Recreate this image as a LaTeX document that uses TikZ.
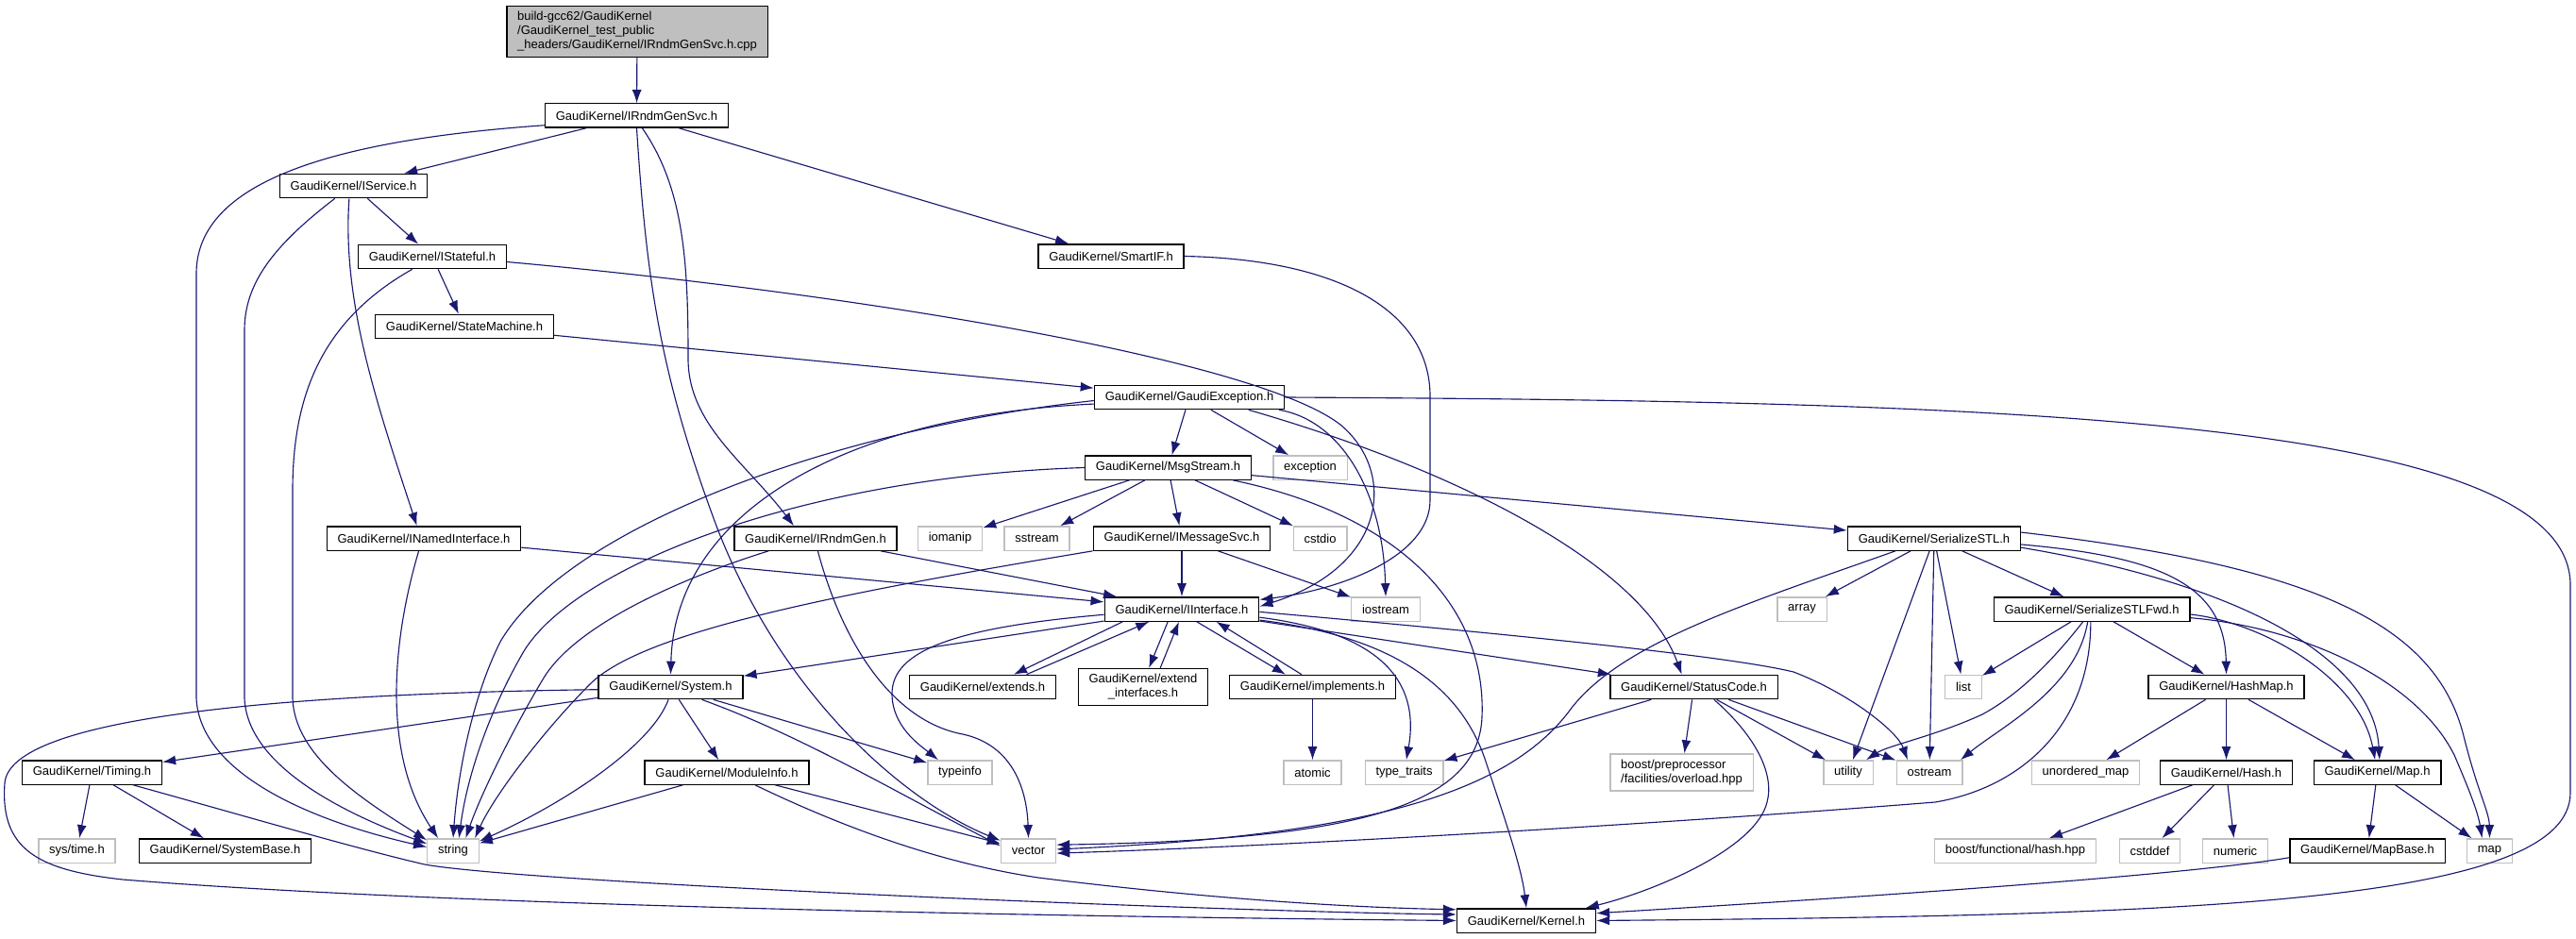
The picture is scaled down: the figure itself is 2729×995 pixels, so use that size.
\documentclass[tikz,border=0pt]{standalone}
\usepackage{fontspec}
\setmainfont{Liberation Sans}
\usetikzlibrary{shapes,arrows,arrows.meta}
\definecolor{edgeblue}{HTML}{191970}
\definecolor{boxgrey}{HTML}{BFBFBF}
\tikzstyle{block} = [rectangle, draw=black, line width=1pt, fill=white,
    font=\fontsize{9.75}{11.25}\selectfont, inner xsep=8.5pt, inner ysep=2pt, minimum height=19pt]
\tikzstyle{sysblock} = [block, draw=boxgrey]
\tikzstyle{multi} = [inner ysep=4.5pt]
\tikzstyle{rootblock} = [block, multi, fill=boxgrey, align=left]
\tikzstyle{line} = [draw=edgeblue, line width=0.85pt, -{Latex[length=10.5pt, width=7.5pt]}]

\begin{document}
\begin{tikzpicture}[x=0.75pt, y=-0.75pt]
	\useasboundingbox (0,0) rectangle (2729,995);

		\node [rootblock] (root) at (675,33.5) {build-gcc62/GaudiKernel\\/GaudiKernel\_test\_public\\\_headers/GaudiKernel/IRndmGenSvc.h.cpp};
		\node [block] (rndmsvc) at (674.5,122.5) {GaudiKernel/IRndmGenSvc.h};
		\node [block] (iservice) at (374.5,197) {GaudiKernel/IService.h};
		\node [block] (smartif) at (1177,271.5) {GaudiKernel/SmartIF.h};
		\node [block] (istateful) at (458,272) {GaudiKernel/IStateful.h};
		\node [block] (statemachine) at (492,346) {GaudiKernel/StateMachine.h};
		\node [block] (gexception) at (1260,421) {GaudiKernel/GaudiException.h};
		\node [block] (msgstream) at (1237.5,495.5) {GaudiKernel/MsgStream.h};
		\node [sysblock] (exception) at (1388,495.5) {exception};
		\node [block] (inamed) at (449,570.5) {GaudiKernel/INamedInterface.h};
		\node [block] (irndmgen) at (864,570.5) {GaudiKernel/IRndmGen.h};
		\node [sysblock] (iomanip) at (1006.5,570.5) {iomanip};
		\node [sysblock] (sstream) at (1098.5,570.5) {sstream};
		\node [block] (imsgsvc) at (1252,570.5) {GaudiKernel/IMessageSvc.h};
		\node [sysblock] (cstdio) at (1398.5,570.5) {cstdio};
		\node [block] (serstl) at (2049,570.5) {GaudiKernel/SerializeSTL.h};
		\node [block] (iinterface) at (1252,645.5) {GaudiKernel/IInterface.h};
		\node [sysblock] (iostream) at (1468,645.5) {iostream};
		\node [sysblock] (array) at (1909,645.5) {array};
		\node [block] (serfwd) at (2216,645.5) {GaudiKernel/SerializeSTLFwd.h};
		\node [block] (system) at (710.5,728) {GaudiKernel/System.h};
		\node [block] (extends) at (1041,728) {GaudiKernel/extends.h};
		\node [block, multi, align=center] (extif) at (1211,728) {GaudiKernel/extend\\\_interfaces.h};
		\node [block] (implements) at (1390.5,728) {GaudiKernel/implements.h};
		\node [block] (statuscode) at (1794.5,728) {GaudiKernel/StatusCode.h};
		\node [sysblock] (stdlist) at (2080,728) {list};
		\node [block] (hashmap) at (2358.5,728) {GaudiKernel/HashMap.h};
		\node [block] (timing) at (97.5,818.5) {GaudiKernel/Timing.h};
		\node [block] (moduleinfo) at (770,818.5) {GaudiKernel/ModuleInfo.h};
		\node [sysblock] (typeinfo) at (1017,818.5) {typeinfo};
		\node [sysblock] (atomic) at (1390.5,818.5) {atomic};
		\node [sysblock] (typetraits) at (1487.5,818.5) {type\_traits};
		\node [sysblock, multi, align=left] (boostpp) at (1781.5,818.5) {boost/preprocessor\\/facilities/overload.hpp};
		\node [sysblock] (utility) at (1958,818.5) {utility};
		\node [sysblock] (ostream) at (2044,818.5) {ostream};
		\node [sysblock] (unordmap) at (2209.5,818.5) {unordered\_map};
		\node [block] (hash) at (2358.5,818.5) {GaudiKernel/Hash.h};
		\node [block] (gkmap) at (2518.5,818.5) {GaudiKernel/Map.h};
		\node [sysblock] (systime) at (81.5,901.5) {sys/time.h};
		\node [block] (systembase) at (238.5,901.5) {GaudiKernel/SystemBase.h};
		\node [sysblock] (string) at (480,901.5) {string};
		\node [sysblock] (vector) at (1089.5,901.5) {vector};
		\node [sysblock] (boosthash) at (2135,901.5) {boost/functional/hash.hpp};
		\node [sysblock] (cstddef) at (2277.5,901.5) {cstddef};
		\node [sysblock] (numeric) at (2368,901.5) {numeric};
		\node [block] (mapbase) at (2508,901.5) {GaudiKernel/MapBase.h};
		\node [sysblock] (stdmap) at (2637.5,901.5) {map};
		\node [block] (kernel) at (1617,975.5) {GaudiKernel/Kernel.h};

		\path [line] (root) -- (rndmsvc);
		\path [line] (rndmsvc) -- (iservice);
		\path [line] (rndmsvc) -- (smartif);
		\path [line] (rndmsvc.186) .. controls (330,150) and (208,200) .. (208,290) -- (208,740) .. controls (212,820) and (330,870) .. (string.172);
		\path [line] (rndmsvc.south) .. controls (685,300) and (700,400) .. (760,560) .. controls (830,740) and (960,850) .. (vector.160);
		\path [line] (rndmsvc.-66) .. controls (725,200) and (729,280) .. (729,380) .. controls (729,450) and (790,490) .. (irndmgen.150);

		\path [line] (iservice) -- (istateful);
		\path [line] (iservice.-109) .. controls (362,320) and (400,430) .. (inamed.119);
		\path [line] (iservice.-146) .. controls (290,260) and (259,300) .. (259,350) -- (259,740) .. controls (262,810) and (360,860) .. (string.165);

		\path [line] (istateful) -- (statemachine);
		\path [line] (istateful.-148) .. controls (340,340) and (310,420) .. (310,520) -- (310,740) .. controls (312,800) and (380,845) .. (string.158);
		\path [line] (istateful.-4) .. controls (900,310) and (1330,380) .. (1420,450) .. controls (1480,500) and (1470,600) .. (iinterface.2);
		\path [line] (smartif.east) .. controls (1420,275) and (1515,330) .. (1515,420) -- (1515,530) .. controls (1515,590) and (1420,625) .. (iinterface.7);
		\path [line] (statemachine) -- (gexception);

		\path [line] (gexception) -- (msgstream);
		\path [line] (gexception) -- (exception);
		\path [line] (gexception.182) .. controls (880,455) and (600,560) .. (530,680) .. controls (500,740) and (485,820) .. (string.north);
		\path [line] (gexception.184) .. controls (900,440) and (715,540) .. (system.north);
		\path [line] (gexception.-8) .. controls (1420,445) and (1465,520) .. (iostream.north);
		\path [line] (gexception.-12) .. controls (1550,500) and (1740,600) .. (statuscode.134);
		\path [line] (gexception.east) .. controls (2100,425) and (2723,440) .. (2723,620) -- (2723,840) .. controls (2723,960) and (2300,970) .. (kernel.east);

		\path [line] (msgstream) -- (iomanip);
		\path [line] (msgstream) -- (sstream);
		\path [line] (msgstream) -- (imsgsvc);
		\path [line] (msgstream) -- (cstdio);
		\path [line] (msgstream) -- (serstl);
		\path [line] (msgstream.west) .. controls (850,505) and (610,600) .. (555,690) .. controls (520,750) and (495,820) .. (string.65);
		\path [line] (msgstream.-11) .. controls (1480,545) and (1575,640) .. (1570,760) .. controls (1566,850) and (1450,890) .. (vector.12);

		\path [line] (inamed) -- (iinterface);
		\path [line] (inamed.-112) .. controls (415,680) and (405,800) .. (string.140);
		\path [line] (irndmgen) -- (iinterface);
		\path [line] (irndmgen.-165) .. controls (730,610) and (610,660) .. (575,720) .. controls (545,770) and (510,840) .. (string.45);
		\path [line] (irndmgen.-80) .. controls (895,690) and (950,765) .. (1020,778) .. controls (1075,790) and (1088,840) .. (vector.north);
		\path [line] (imsgsvc) -- (iinterface);
		\path [line] (imsgsvc) -- (iostream);
		\path [line] (imsgsvc.south west) .. controls (880,630) and (680,670) .. (625,725) .. controls (580,770) and (525,840) .. (string.30);

		\path [line] (iinterface) -- (system);
		\path [line] (iinterface.-168) -- (extends.22);
		\path [line] (extends.16) -- (iinterface.-159);
		\path [line] (iinterface.-138) -- (extif.73);
		\path [line] (extif.48) -- (iinterface.-103);
		\path [line] (iinterface.-40) -- (implements.155);
		\path [line] (implements.131) -- (iinterface.-20);
		\path [line] (iinterface.-176) .. controls (1010,665) and (945,690) .. (945,735) .. controls (945,770) and (975,790) .. (typeinfo.150);
		\path [line] (iinterface) -- (statuscode);
		\path [line] (iinterface.-6) .. controls (1460,670) and (1505,720) .. (typetraits.80);
		\path [line] (iinterface.-8) .. controls (1480,675) and (1550,730) .. (1575,810) .. controls (1595,870) and (1612,920) .. (kernel.north);
		\path [line] (iinterface.-2) .. controls (1600,672) and (1830,695) .. (1900,712) .. controls (1960,735) and (2010,775) .. (ostream.150);
		\path [line] (implements) -- (atomic);

		\path [line] (statuscode) -- (typetraits);
		\path [line] (statuscode) -- (boostpp);
		\path [line] (statuscode) -- (utility);
		\path [line] (statuscode) -- (ostream);
		\path [line] (statuscode.-32) .. controls (1860,780) and (1880,820) .. (1872,850) .. controls (1860,900) and (1750,945) .. (kernel.12);

		\path [line] (serstl) -- (array);
		\path [line] (serstl) -- (utility);
		\path [line] (serstl) -- (ostream);
		\path [line] (serstl) -- (stdlist);
		\path [line] (serstl) -- (serfwd);
		\path [line] (serstl.-162) .. controls (1850,640) and (1720,680) .. (1665,750) .. controls (1600,840) and (1450,885) .. (vector.3);
		\path [line] (serstl.-4) .. controls (2290,590) and (2357,620) .. (hashmap.north);
		\path [line] (serstl.-6) .. controls (2380,620) and (2515,700) .. (gkmap.80);
		\path [line] (serstl.4) .. controls (2450,600) and (2580,660) .. (2610,780) .. controls (2625,840) and (2637,860) .. (stdmap.north);

		\path [line] (serfwd) -- (stdlist);
		\path [line] (serfwd) -- (hashmap);
		\path [line] (serfwd.-125) .. controls (2190,680) and (2150,730) .. (2100,757) .. controls (2050,780) and (2000,790) .. (utility.35);
		\path [line] (serfwd.-108) .. controls (2200,730) and (2120,770) .. (ostream.22);
		\path [line] (serfwd.-95) .. controls (2215,770) and (2140,835) .. (2050,850) .. controls (1800,870) and (1400,895) .. (vector.-5);
		\path [line] (serfwd.-3) .. controls (2400,660) and (2500,720) .. (gkmap.100);
		\path [line] (serfwd.-5) .. controls (2440,665) and (2560,720) .. (2600,800) .. controls (2615,835) and (2625,860) .. (stdmap.121);

		\path [line] (hashmap) -- (unordmap);
		\path [line] (hashmap) -- (hash);
		\path [line] (hashmap) -- (gkmap);
		\path [line] (hash) -- (boosthash);
		\path [line] (hash) -- (cstddef);
		\path [line] (hash) -- (numeric);
		\path [line] (gkmap) -- (mapbase);
		\path [line] (gkmap) -- (stdmap);
		\path [line] (mapbase.-175) .. controls (2300,930) and (1900,955) .. (kernel.6);

		\path [line] (system) -- (timing);
		\path [line] (system) -- (moduleinfo);
		\path [line] (system) -- (typeinfo);
		\path [line] (system.-100) .. controls (690,790) and (600,850) .. (string.20);
		\path [line] (system.-22) .. controls (850,780) and (950,840) .. (vector.170);
		\path [line] (system.182) .. controls (300,735) and (10,760) .. (5,830) .. controls (0,900) and (40,922) .. (130,932) .. controls (500,962) and (1200,972) .. (kernel.west);

		\path [line] (timing) -- (systime);
		\path [line] (timing) -- (systembase);
		\path [line] (timing.-17) .. controls (250,862) and (380,900) .. (450,916) .. controls (560,936) and (1300,966) .. (kernel.175);
		\path [line] (moduleinfo) -- (string);
		\path [line] (moduleinfo) -- (vector);
		\path [line] (moduleinfo.-24) .. controls (900,880) and (1000,915) .. (1100,930) .. controls (1300,955) and (1450,962) .. (kernel.171);
	\end{tikzpicture}
\end{document}
